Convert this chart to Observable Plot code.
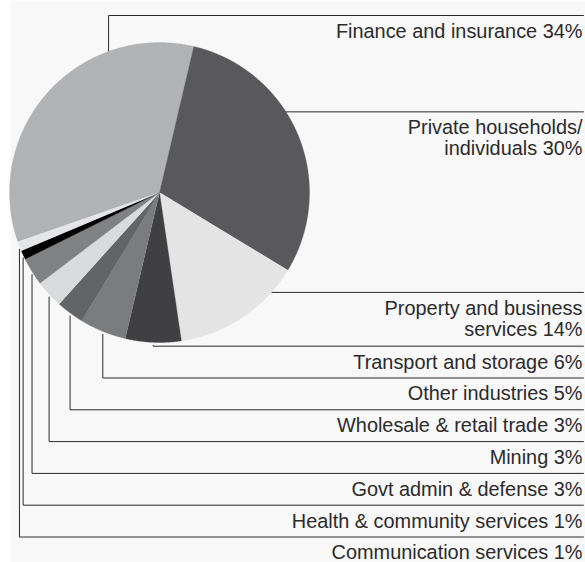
<!DOCTYPE html>
<html>
<head>
<meta charset="utf-8">
<script src="https://cdn.jsdelivr.net/npm/d3@7"></script>
<script src="https://cdn.jsdelivr.net/npm/@observablehq/plot@0.6"></script>
<style>
  html, body { margin: 0; padding: 0; background: #ffffff; }
  #chart svg { display: block; }
</style>
</head>
<body>
<div id="chart"></div>
<script>
// ---- data ----
const categories = [
  "Finance and insurance",
  "Private households/\nindividuals",
  "Property and business\nservices",
  "Transport and storage",
  "Other industries",
  "Wholesale & retail trade",
  "Mining",
  "Govt admin & defense",
  "Health & community services",
  "Communication services"
];
const shares = [34, 30, 14, 6, 5, 3, 3, 3, 1, 1];
const shades = ["#b1b2b4", "#59595b", "#e3e4e3", "#404042", "#7b7c7e",
                "#636466", "#d9dadb", "#808183", "#000000", "#e4e5e6"];

// ---- layout ----
const W = 585, H = 562, mL = 10;
const cx = 159, cy = 192, R = 150;          // pie centre / radius in pixels
const xDomain = [(mL - cx) / R, (W - cx) / R];
const yDomain = [-(H - cy) / R, cy / R];
const px = p => p / R;                       // pixel length -> data units
const startDeg = -109.2;
const rad = d => d * Math.PI / 180;
const total = d3.sum(shares);

let acc = 0;
const slices = shares.map((v, i) => {
  const a0 = startDeg + acc / total * 360;
  acc += v;
  const a1 = startDeg + acc / total * 360;
  return {i, cat: categories[i], a0, a1, mid: (a0 + a1) / 2};
});

// pie polygons
const piePts = slices.flatMap(s => {
  const n = Math.max(2, Math.ceil((s.a1 - s.a0) / 0.4));
  const arr = [{cat: s.cat, x: 0, y: 0}];
  for (let k = 0; k <= n; k++) {
    const a = rad(s.a0 + (s.a1 - s.a0) * k / n);
    arr.push({cat: s.cat, x: Math.sin(a), y: Math.cos(a)});
  }
  return arr;
});

// label rows: stacked from bottom for lower labels
const xRight = px(583 - cx);
const yBottomLine = -px(536.5 - cy);
const rowPitch = px(31.8), extraLine = px(22);
const lineCount = categories.map(c => c.split("\n").length);
const lineY = new Array(categories.length);
let yy = yBottomLine;
for (let i = categories.length - 1; i >= 2; i--) {
  lineY[i] = yy;
  const nextLines = i - 1 >= 0 ? lineCount[i - 1] : 1;
  yy += rowPitch + (nextLines - 1) * extraLine;
}
// top two labels
const financeAnchor = rad(slices[0].a0 + 0.73 * (slices[0].a1 - slices[0].a0));
const privateAnchor = rad(slices[1].a0 + 0.41 * (slices[1].a1 - slices[1].a0));
lineY[0] = yDomain[1] - px(15);
lineY[1] = Math.cos(privateAnchor);

const leaders = [];
slices.forEach(s => {
  const i = s.i, ly = lineY[i];
  if (i === 0) {
    const ax = Math.sin(financeAnchor), ay = Math.cos(financeAnchor);
    leaders.push({k: i, x: ax, y: ay}, {k: i, x: ax, y: ly}, {k: i, x: xRight, y: ly});
  } else if (i === 1 || i === 2) {
    const ex = Math.sqrt(Math.max(0, 1 - ly * ly));
    leaders.push({k: i, x: ex - 0.01, y: ly}, {k: i, x: xRight, y: ly});
  } else {
    const a = rad(s.mid);
    const ax = Math.sin(a), ay = Math.cos(a);
    leaders.push({k: i, x: ax, y: ay - 0.02}, {k: i, x: ax, y: ly}, {k: i, x: xRight, y: ly});
  }
});

const labels = slices.map(s => ({
  text: `${s.cat} ${shares[s.i]}%`,
  x: xRight - px(1),
  y: lineY[s.i]
}));

const chart = Plot.plot({
  width: W,
  height: H,
  marginLeft: mL, marginRight: 0, marginTop: 0, marginBottom: 0,
  x: {domain: xDomain, axis: null},
  y: {domain: yDomain, axis: null},
  color: {domain: categories, range: shades},
  style: {fontFamily: "'Liberation Sans', Arial, sans-serif", background: "#ffffff"},
  marks: [
    Plot.frame({fill: "#f8f8f8", stroke: "none"}),
    Plot.line(leaders, {x: "x", y: "y", z: "k", stroke: "#2a2a2a", strokeWidth: 1}),
    Plot.line(piePts, {x: "x", y: "y", z: "cat", fill: "cat", stroke: "cat", strokeWidth: 0.3, curve: "linear"}),
    Plot.text(labels, {
      x: "x", y: "y", text: "text",
      textAnchor: "end", lineAnchor: "top", dy: 7.5,
      lineHeight: 1.06,
      fontSize: 19.9, fill: "#2b2b2b"
    })
  ]
});
document.getElementById("chart").appendChild(chart);
</script>
</body>
</html>
